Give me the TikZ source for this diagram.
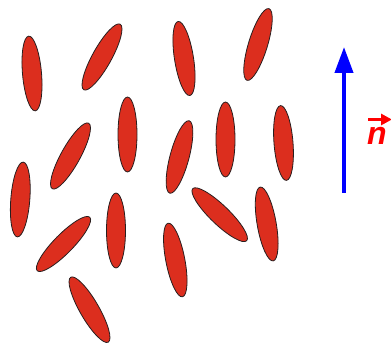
\documentclass[tikz,border=0pt]{standalone}
\usepackage{fontspec}
\setmainfont{Liberation Sans}
\usetikzlibrary{shapes.geometric,arrows.meta}
\definecolor{rodred}{RGB}{220,46,30}
\definecolor{rodline}{RGB}{40,30,30}
\tikzset{
    rod/.style={ellipse, fill=rodred, draw=rodline, line width=0.8pt,
        minimum width=19pt, minimum height=75pt, inner sep=0pt},
    director/.style={blue, line width=4pt, -{Triangle[length=26pt,width=18pt]}},
    vecarrow/.style={red, line width=3pt, -{Triangle[length=11pt,width=11pt]}}
}
\begin{document}
\begin{tikzpicture}[x=1pt, y=1pt]
    \useasboundingbox (0,0) rectangle (391,344);
    % Moléculas (centro x, centro y, ángulo)
    \foreach \cx/\cy/\ang [count=\i] in {32/73.5/5, 102/57/-29, 184/58.5/9, 258/44.5/-17,
            70.5/156/-29, 127.5/134.5/0, 179.5/157/-15, 225.5/139.5/0, 283.5/143/4.5,
            20.3/199.5/-4.5, 63.5/244/-44.5, 116/230.5/0, 89.5/309.7/30,
            219.7/214.7/46, 266.7/224/10, 175.3/260/11} {
        \node[rod, rotate=\ang] (rod\i) at (\cx,344-\cy) {};
    }
    % Director
    \coordinate (tail) at (344,151);
    \coordinate (head) at (344,297);
    \draw[director] (tail) -- (head);
    \node[text=red, font=\fontsize{32}{32}\selectfont\bfseries\itshape, anchor=base west, inner sep=0pt] (nlabel) at (367,199) {n};
    \coordinate (vecstart) at (368,224.5);
    \coordinate (vecend) at (392,224.5);
    \draw[vecarrow] (vecstart) -- (vecend);
\end{tikzpicture}
\end{document}
